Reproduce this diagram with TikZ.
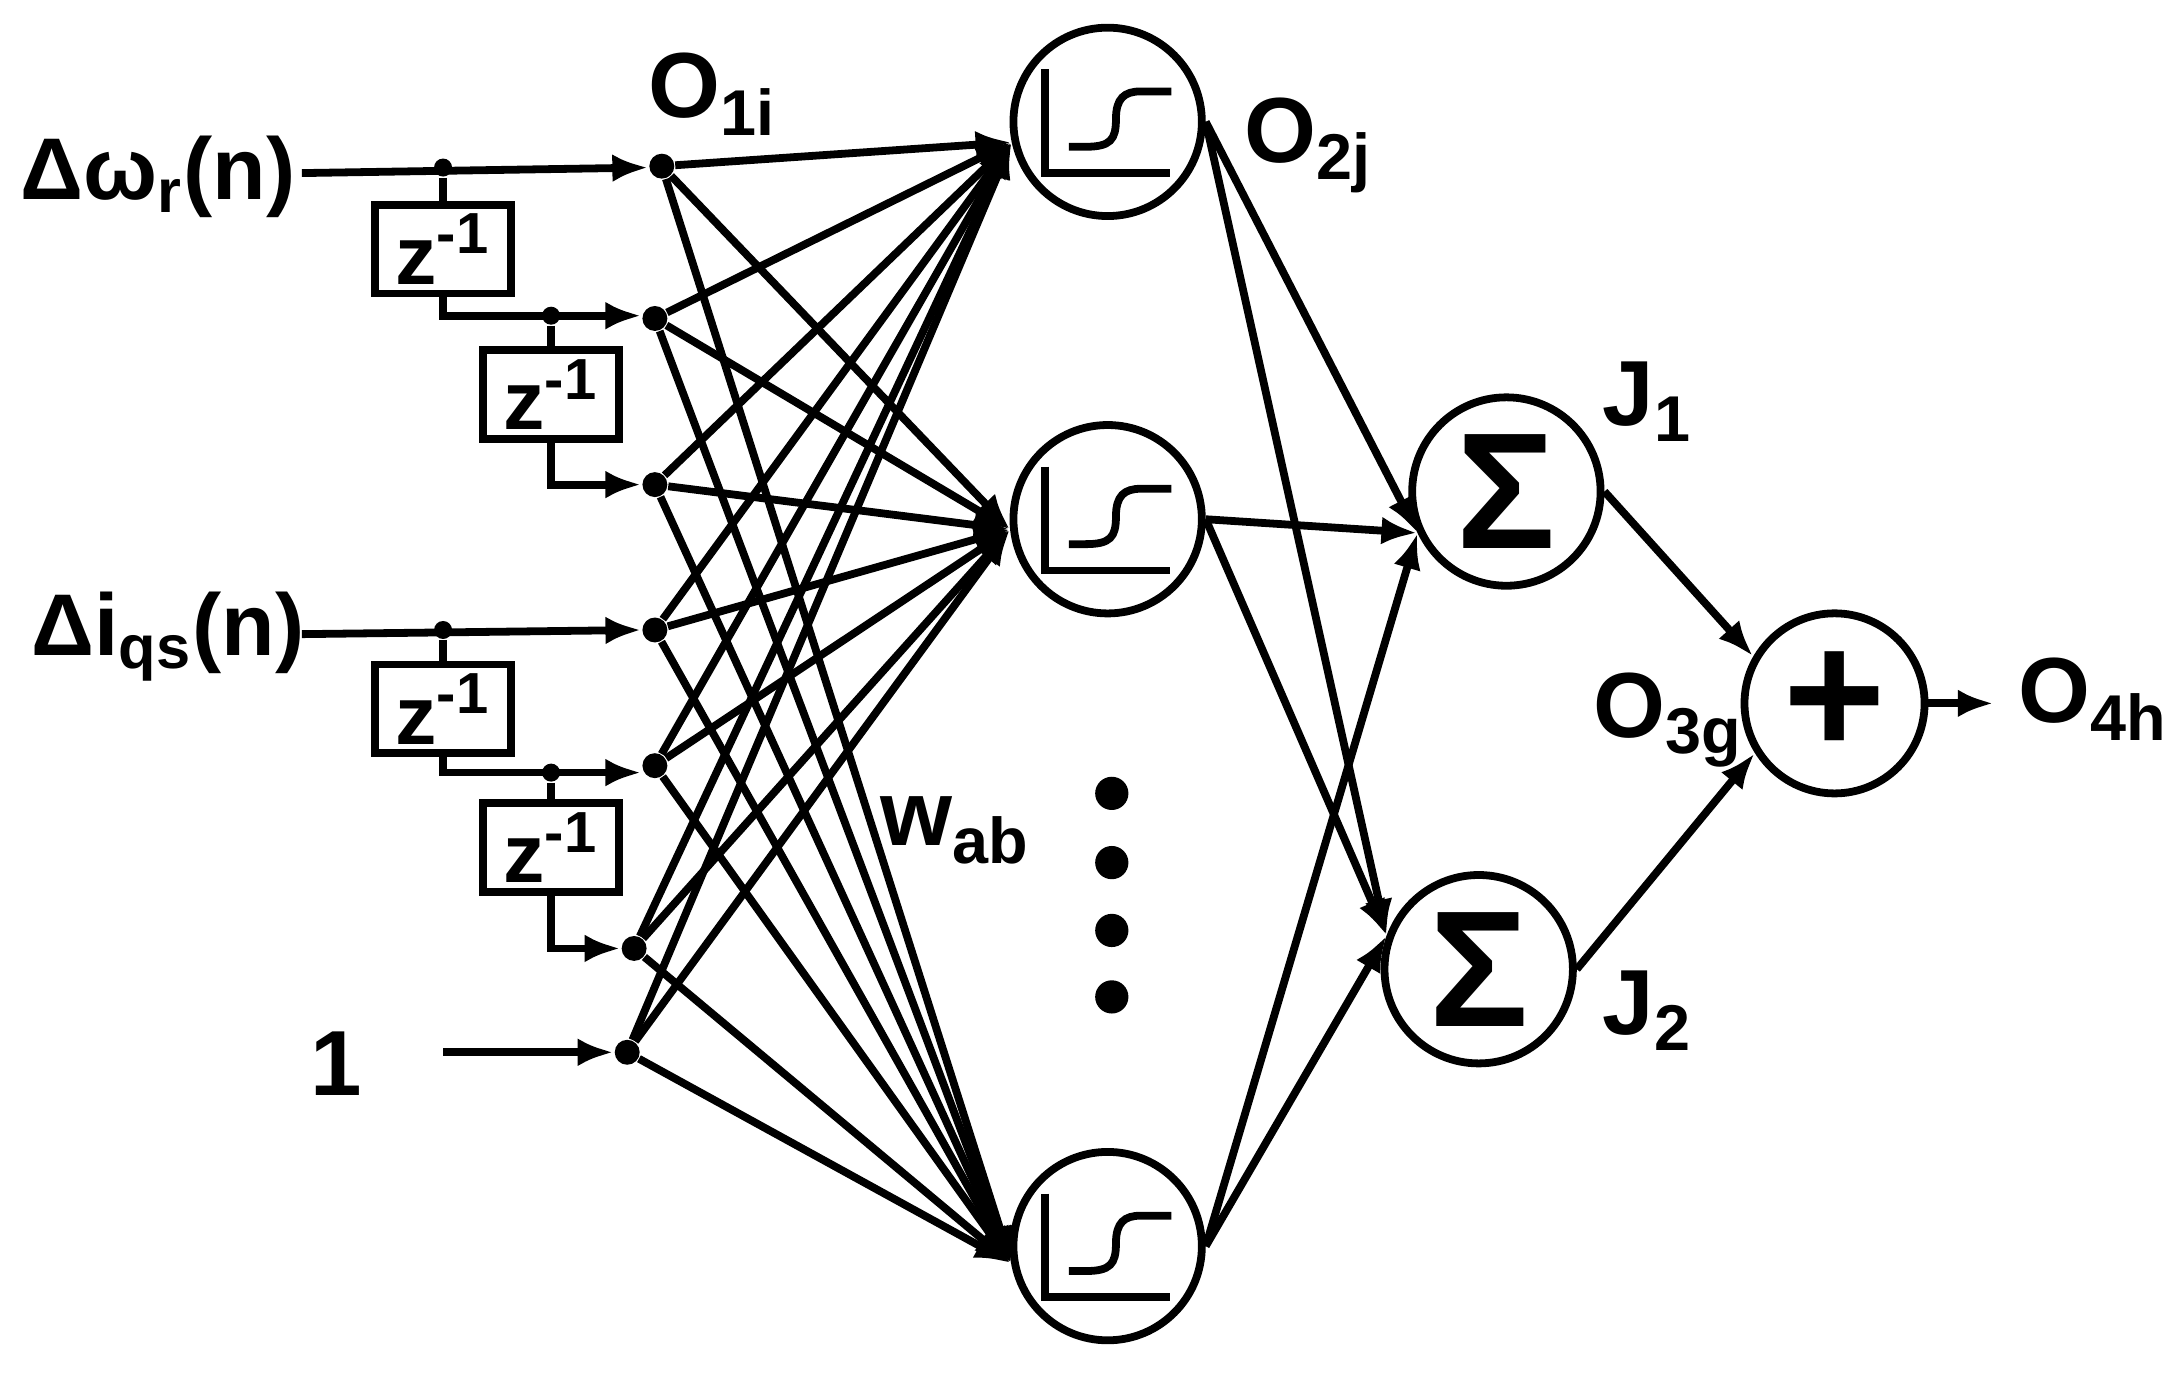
\documentclass[tikz,border=0pt]{standalone}
\usepackage{fontspec}
\setmainfont{Liberation Sans}
\usetikzlibrary{arrows.meta}
\begin{document}
\begin{tikzpicture}[x=0.01cm,y=-0.01cm,
  ln/.style={line width=1.6pt},
  ar/.style={ln,-{Latex[length=0.26cm,width=0.2cm]}},
  neu/.style={circle,draw,line width=1.6pt,minimum size=1.36cm,inner sep=0pt},
  dot/.style={circle,fill,inner sep=0pt,minimum size=0.18cm},
  tap/.style={circle,fill,inner sep=0pt,minimum size=0.13cm},
  zb/.style={draw,line width=1.6pt,minimum width=0.98cm,minimum height=0.64cm,inner sep=0pt,font=\fontsize{17}{19}\selectfont\bfseries},
  lab/.style={font=\fontsize{19}{22}\selectfont\bfseries}]
\useasboundingbox (0,0) rectangle (1568,993);
% hidden neurons
\foreach \n/\y in {h1/88,h2/375,h3/900}{
  \node[neu] (\n) at (800,\y) {};
  \draw[ln] ([shift={(-45,-38)}]\n.center) -- ++(0,75) -- ++(90,0);
  \draw[ln] ([shift={(-28,18)}]\n.center) -- ++(12,0) .. controls +(18,0) and +(0,15) .. ++(22,-20) .. controls +(0,-15) and +(-12,0) .. ++(18,-20) -- ++(22,0);
}
\foreach \y [count=\i] in {573,623,672,720}\node[dot,minimum size=0.24cm] (d\i) at (803,\y) {};
\node[neu,font=\fontsize{34}{34}\selectfont\bfseries] (s1) at (1088,355) {Σ};
\node[neu,font=\fontsize{34}{34}\selectfont\bfseries] (s2) at (1068,700) {Σ};
\node[neu,minimum size=1.3cm,font=\fontsize{36}{36}\selectfont\bfseries] (p) at (1325,508) {+};
% input dots
\foreach \n/\x/\y in {a1/478/120,a2/473/230,a3/473/350,a4/473/455,a5/473/553,a6/458/685,a7/453/760}
  \node[dot] (\n) at (\x,\y) {};
% inputs and delays
\node[lab,anchor=west,inner sep=0pt,font=\fontsize{18}{21}\selectfont\bfseries] (in1) at (14,128) {Δω\textsubscript{r}(n)};
\node[lab,anchor=west,inner sep=0pt,font=\fontsize{18}{21}\selectfont\bfseries] (in2) at (22,460) {Δi\textsubscript{qs}(n)};
\node[lab] (in3) at (243,768) {1};
\coordinate (i1) at (218,125); \coordinate (i2) at (218,458); \coordinate (i3) at (320,760);
\node[zb] (z1) at (320,180) {z\textsuperscript{-1}};
\node[zb] (z2) at (398,285) {z\textsuperscript{-1}};
\node[zb] (z3) at (320,512) {z\textsuperscript{-1}};
\node[zb] (z4) at (398,612) {z\textsuperscript{-1}};
\node[tap] (t1) at (320,121) {}; \node[tap] (t2) at (398,228) {};
\node[tap] (t3) at (320,455) {}; \node[tap] (t4) at (398,558) {};
\draw[ar] (i1) -- (a1.west|-t1);
\draw[ln] (t1) -- (z1.north);
\draw[ar] (z1.south) |- (a2.west|-t2);
\draw[ln] (t2) -- (z2.north);
\draw[ar] (z2.south) |- (a3.west);
\draw[ar] (i2) -- (a4.west|-t3);
\draw[ln] (t3) -- (z3.north);
\draw[ar] (z3.south) |- (a5.west|-t4);
\draw[ln] (t4) -- (z4.north);
\draw[ar] (z4.south) |- (a6.west);
\draw[ar] (i3) -- (a7.west);
% weights
\foreach \a in {a1,a2,a3,a4,a5,a6,a7}{
  \draw[ar] (\a) -- (h1.192);
  \draw[ar] (\a) -- (h2.186);
  \draw[ar] (\a) -- (h3.190);
}
\foreach \h in {h1,h2,h3}{
  \draw[ar] (\h.east) -- (s1.205);
  \draw[ar] (\h.east) -- (s2.160);
}
\draw[ar] (s1.east) -- (p.150);
\draw[ar] (s2.east) -- (p.212);
\coordinate (o) at (1440,508);
\draw[ar] (p.east) -- (o);
% labels
\node[lab] (l1) at (515,68) {O\textsubscript{1i}};
\node[lab] (l2) at (945,105) {O\textsubscript{2j}};
\node[lab] (l3) at (1190,290) {J\textsubscript{1}};
\node[lab] (l4) at (1190,730) {J\textsubscript{2}};
\node[lab] (l5) at (1205,520) {O\textsubscript{3g}};
\node[lab] (l6) at (1512,505) {O\textsubscript{4h}};
\node[lab] (l7) at (690,600) {w\textsubscript{ab}};
\end{tikzpicture}
\end{document}
